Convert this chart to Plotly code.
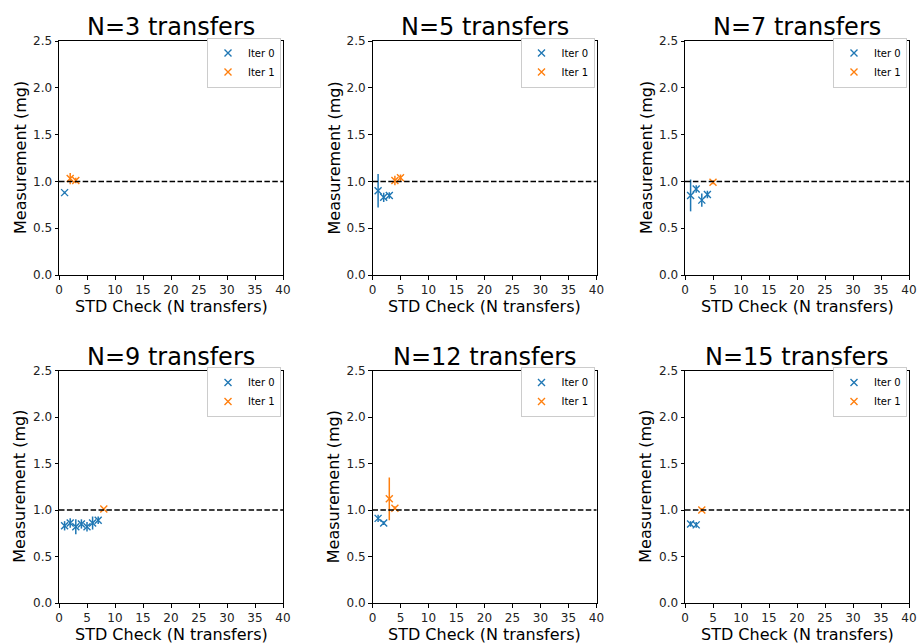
import plotly.graph_objects as go

# Panel titles (number of transfers per standard check)
panel_titles = ["N=3 transfers", "N=5 transfers", "N=7 transfers",
                "N=9 transfers", "N=12 transfers", "N=15 transfers"]

# Iteration 0 measurements: x = check index, y = mean (mg), e = std (mg)
iter0_x = [[1], [1, 2, 3], [1, 2, 3, 4], [1, 2, 3, 4, 5, 6, 7], [1, 2], [1, 2]]
iter0_y = [[0.88], [0.90, 0.83, 0.85], [0.85, 0.92, 0.80, 0.86],
           [0.83, 0.86, 0.82, 0.85, 0.82, 0.86, 0.89], [0.91, 0.86], [0.85, 0.84]]
iter0_e = [[0.01], [0.18, 0.05, 0.035], [0.17, 0.04, 0.07, 0.04],
           [0.05, 0.05, 0.08, 0.05, 0.05, 0.07, 0.04], [0.04, 0.02], [0.03, 0.03]]

# Iteration 1 measurements
iter1_x = [[2, 3], [4, 5], [5], [8], [3, 4], [3]]
iter1_y = [[1.03, 1.01], [1.01, 1.04], [0.99], [1.01], [1.12, 1.02], [1.00]]
iter1_e = [[0.06, 0.03], [0.05, 0.035], [0.02], [0.01], [0.23, 0.02], [0.02]]

REFERENCE_MG = 1.0
X_TICKS = [0, 5, 10, 15, 20, 25, 30, 35, 40]
Y_TICKS = [0.0, 0.5, 1.0, 1.5, 2.0, 2.5]

BLUE = "#1f77b4"
ORANGE = "#ff7f0e"
FONT = "DejaVu Sans"

W, H = 918, 643
# Axes boxes in pixels: (left, right) per column and (top, bottom) per row
cols_px = [(59, 283), (372.5, 596.5), (685, 909)]
rows_px = [(41, 275), (370.5, 603)]

fig = go.Figure()

for i in range(6):
    r, c = divmod(i, 3)
    n = i + 1
    xa = "x" if n == 1 else f"x{n}"
    ya = "y" if n == 1 else f"y{n}"
    leg = "legend" if n == 1 else f"legend{n}"
    l, rgt = cols_px[c]
    top, bot = rows_px[r]
    xd = [l / W, rgt / W]
    yd = [1 - bot / H, 1 - top / H]

    for xs, ys, es, col, name in [
        (iter0_x[i], iter0_y[i], iter0_e[i], BLUE, "Iter 0"),
        (iter1_x[i], iter1_y[i], iter1_e[i], ORANGE, "Iter 1"),
    ]:
        fig.add_trace(go.Scatter(
            x=xs, y=ys, mode="markers", name=name,
            xaxis=xa, yaxis=ya, legend=leg,
            marker=dict(symbol="x-thin", size=7, color=col,
                        line=dict(color=col, width=1.4)),
            error_y=dict(type="data", array=es, visible=True,
                         color=col, thickness=1.5, width=0),
        ))

    axis_common = dict(showgrid=False, zeroline=False, showline=True,
                       linecolor="black", linewidth=1, mirror=True,
                       ticks="outside", ticklen=3.5, tickwidth=0.8,
                       tickcolor="black", automargin=False,
                       tickfont=dict(family=FONT, size=12, color="#222"))
    fig.layout[("xaxis" if n == 1 else f"xaxis{n}")] = dict(
        domain=xd, anchor=ya, range=[0, 40], tickvals=X_TICKS, **axis_common)
    fig.layout[("yaxis" if n == 1 else f"yaxis{n}")] = dict(
        domain=yd, anchor=xa, range=[0, 2.5], tickvals=Y_TICKS,
        tickformat=".1f", **axis_common)

    # Reference line
    fig.add_shape(type="line", xref=f"{xa} domain", yref=ya,
                  x0=0, x1=1, y0=REFERENCE_MG, y1=REFERENCE_MG,
                  line=dict(color="black", width=1.5, dash="5.5px,2.4px"))

    # Panel title
    fig.add_annotation(text=panel_titles[i], xref="paper", yref="paper",
                       x=(xd[0] + xd[1]) / 2, y=yd[1], yshift=-2,
                       xanchor="center", yanchor="bottom", showarrow=False,
                       font=dict(family=FONT, size=24, color="black"))
    # Axis titles
    fig.add_annotation(text="STD Check (N transfers)", xref="paper", yref="paper",
                       x=(xd[0] + xd[1]) / 2, y=yd[0], yshift=-20,
                       xanchor="center", yanchor="top", showarrow=False,
                       font=dict(family=FONT, size=16, color="black"))
    fig.add_annotation(text="Measurement (mg)", xref="paper", yref="paper",
                       x=xd[0], xshift=-39, y=(yd[0] + yd[1]) / 2,
                       xanchor="center", yanchor="middle", textangle=-90,
                       showarrow=False,
                       font=dict(family=FONT, size=16, color="black"))

    fig.layout[leg] = dict(
        x=(rgt - 2) / W, y=1 - (top - 3.5) / H, xanchor="right", yanchor="top",
        bgcolor="white", bordercolor="#cccccc", borderwidth=1,
        font=dict(family=FONT, size=10, color="black"),
        tracegroupgap=0, itemwidth=30)

fig.update_layout(width=W, height=H, margin=dict(l=0, r=0, t=0, b=0),
                  plot_bgcolor="white", paper_bgcolor="white", showlegend=True)

fig.write_html("out.html")
